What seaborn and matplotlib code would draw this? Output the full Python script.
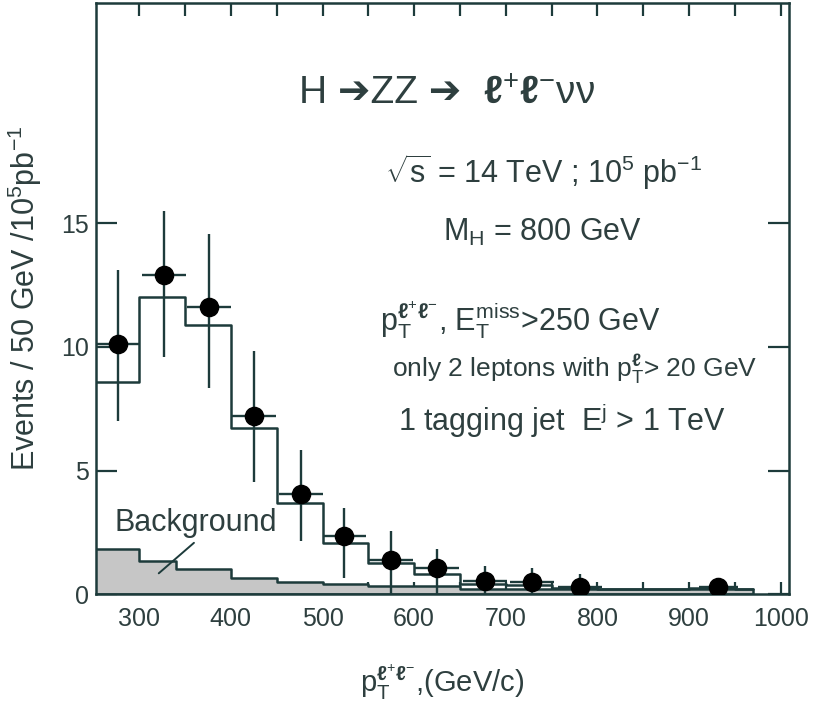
import numpy as np
import pandas as pd
import matplotlib
matplotlib.use("Agg")
import matplotlib.pyplot as plt
from matplotlib.ticker import MultipleLocator
import seaborn as sns

# ---- data ----
# MC signal + background (step histogram), events / 50 GeV
sig_edges = [250, 300, 350, 400, 450, 500, 550, 600, 650, 700, 750, 800, 850, 900, 950, 970]
sig_counts = [8.6, 12.0, 10.9, 6.7, 3.7, 2.05, 1.25, 0.8, 0.42, 0.38, 0.25, 0.22, 0.2, 0.25, 0.2]

# background only (grey filled)
bkg_edges = [250, 300, 340, 400, 450, 500, 550, 650, 970]
bkg_counts = [1.83, 1.36, 1.0, 0.66, 0.48, 0.4, 0.33, 0.22]

# "data" points with error bars
pt_points = [277, 327, 376, 425, 476, 524, 575, 625, 677, 729, 781, 932]
events = [10.1, 12.9, 11.6, 7.2, 4.05, 2.35, 1.4, 1.04, 0.55, 0.49, 0.28, 0.28]
err_up = [3.0, 2.6, 2.95, 2.65, 1.8, 1.12, 1.15, 0.77, 0.58, 0.57, 0.52, 0.38]
err_down = [3.1, 3.3, 3.25, 2.65, 1.9, 1.7, 1.4, 1.04, 0.55, 0.49, 0.28, 0.28]
x_half = [24, 24, 24, 24, 24, 24, 24, 24, 24, 24, 24, 21]

# ---- style ----
sns.set_style("ticks")
plt.rcParams['font.family'] = ['Liberation Sans', 'DejaVu Sans']
plt.rcParams['mathtext.fontset'] = 'custom'
plt.rcParams['mathtext.rm'] = 'Liberation Sans'
plt.rcParams['mathtext.it'] = 'Liberation Sans:italic'
plt.rcParams['mathtext.bf'] = 'Liberation Sans:bold'

INK = '#2e3f3f'
LINE = '#1d3b3b'

fig = plt.figure(figsize=(8.15, 7.04), dpi=100)
ax = fig.add_axes([0.118, 0.156, 0.850, 0.8395])


def mids(edges):
    e = np.asarray(edges, dtype=float)
    return (e[:-1] + e[1:]) / 2


bkg_df = pd.DataFrame({'pt': mids(bkg_edges), 'n': bkg_counts})
sig_df = pd.DataFrame({'pt': mids(sig_edges), 'n': sig_counts})

sns.histplot(data=bkg_df, x='pt', weights='n', bins=bkg_edges, element='step',
             fill=True, facecolor='#c6c6c6', edgecolor=LINE, alpha=1,
             linewidth=1.8, ax=ax)
sns.histplot(data=sig_df, x='pt', weights='n', bins=sig_edges, element='step',
             fill=False, color=LINE, linewidth=1.8, ax=ax)

ax.errorbar(pt_points, events, xerr=x_half, yerr=[err_down, err_up],
            fmt='none', ecolor=LINE, elinewidth=1.7, capsize=0, zorder=4)
sns.scatterplot(x=pt_points, y=events, color='black', edgecolor='black',
                s=170, marker='o', zorder=5, ax=ax)

# ---- axes ----
ax.set_xlim(253, 1009)
ax.set_ylim(0, 23.9)
ax.set_xticks(range(300, 1001, 100))
ax.xaxis.set_minor_locator(MultipleLocator(50))
ax.set_yticks([0, 5, 10, 15])
ax.tick_params(axis='both', which='both', direction='in', top=True, right=True,
               color=LINE, width=1.6, labelsize=18, labelcolor=INK)
ax.tick_params(axis='x', which='both', length=9, pad=9)
ax.tick_params(axis='y', which='major', length=15, pad=5)
for sp in ax.spines.values():
    sp.set_color(LINE)
    sp.set_linewidth(1.8)

ax.set_xlabel(r'$\mathrm{p}_\mathrm{T}^{\mathbf{\ell}^{+}\mathbf{\ell}^{-}}$,(GeV/c)',
              fontsize=21, color=INK)
ax.xaxis.set_label_coords(0.50, -0.115)
ax.set_ylabel(r'Events / 50 GeV /10$^5$pb$^{-1}$', fontsize=22, color=INK)
ax.yaxis.set_label_coords(-0.075, 0.50)

# ---- annotations ----
# title in two pieces: heavy arrows from DejaVu, leptons in mathtext
ax.text(675, 19.85, 'H \u2794ZZ \u2794  ', fontsize=28, color=INK,
        ha='right', va='baseline')
ax.text(675, 19.85, r'$\mathbf{\ell}^{+}\mathbf{\ell}^{-}\mathrm{\nu\nu}$',
        fontsize=28, color=INK, ha='left', va='baseline')
ax.text(741, 16.64, r'$\sqrt{\mathrm{s}}$ = 14 TeV ; 10$^5$ pb$^{-1}$',
        fontsize=22, color=INK, ha='center', va='baseline')
ax.text(740, 14.29, r'M$_\mathrm{H}$ = 800 GeV', fontsize=22, color=INK,
        ha='center', va='baseline')
ax.text(716, 10.65, r'$\mathrm{p}_\mathrm{T}^{\mathbf{\ell}^{+}\mathbf{\ell}^{-}}$, E$_\mathrm{T}^\mathrm{miss}$>250 GeV',
        fontsize=22, color=INK, ha='center', va='baseline')
ax.text(775, 8.79, r'only 2 leptons with $\mathrm{p}_\mathrm{T}^{\mathbf{\ell}}$> 20 GeV',
        fontsize=19, color=INK, ha='center', va='baseline')
ax.text(761, 6.6, r'1 tagging jet  E$^\mathrm{j}$ > 1 TeV', fontsize=22,
        color=INK, ha='center', va='baseline')

ax.text(362, 2.55, 'Background', fontsize=22, color=INK, ha='center', va='baseline')
ax.annotate('', xy=(319, 0.77), xytext=(362, 2.15),
            arrowprops=dict(arrowstyle='-', color=LINE, lw=1.4))

fig.savefig('out.png', dpi=100)
